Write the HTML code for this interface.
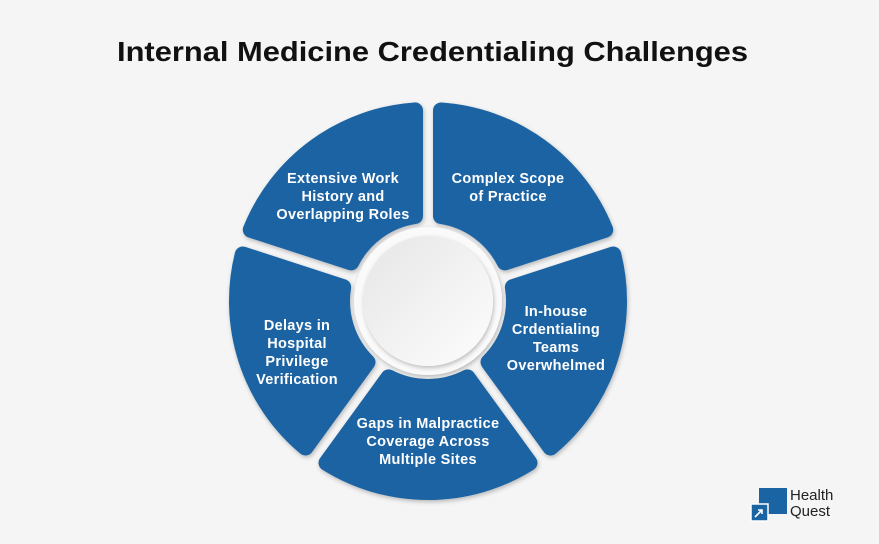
<!DOCTYPE html>
<html><head><meta charset="utf-8"><style>
html,body{margin:0;padding:0;background:#f5f5f5;}
body{width:879px;height:544px;position:relative;overflow:hidden;font-family:"Liberation Sans",sans-serif;}
</style></head><body>
<svg id="s" width="879" height="544" xmlns="http://www.w3.org/2000/svg" style="position:absolute;left:0;top:0">
<defs>
<linearGradient id="g" x1="0" y1="0" x2="1" y2="1"><stop offset="0" stop-color="#e6e6e6"/><stop offset="1" stop-color="#fdfdfd"/></linearGradient>
<filter id="sh" x="-20%" y="-20%" width="140%" height="140%"><feDropShadow dx="1" dy="2" stdDeviation="2" flood-color="#000" flood-opacity="0.25"/></filter>
</defs>
<rect width="879" height="544" fill="#f5f5f5"/>
<text x="117" y="61" textLength="631" lengthAdjust="spacingAndGlyphs" font-size="28" font-weight="bold" fill="#111">Internal Medicine Credentialing Challenges</text>
<g id="segs" filter="url(#sh)"></g>
<circle cx="428" cy="301" r="74" fill="#fafafa" filter="url(#sh)"/>
<circle cx="428" cy="301" r="65" fill="url(#g)" filter="url(#sh)"/>
<g font-size="14.5" font-weight="bold" fill="#fff" text-anchor="middle" letter-spacing="0.3">
<text x="343" y="183">Extensive Work</text><text x="343" y="201">History and</text><text x="343" y="219">Overlapping Roles</text>
<text x="508" y="183">Complex Scope</text><text x="508" y="201">of Practice</text>
<text x="556" y="316">In-house</text><text x="556" y="334">Crdentialing</text><text x="556" y="352">Teams</text><text x="556" y="370">Overwhelmed</text>
<text x="428" y="428">Gaps in Malpractice</text><text x="428" y="446">Coverage Across</text><text x="428" y="464">Multiple Sites</text>
<text x="297" y="330">Delays in</text><text x="297" y="348">Hospital</text><text x="297" y="366">Privilege</text><text x="297" y="384">Verification</text>
</g>
<rect x="759" y="488" width="28" height="26" fill="#1a64a4"/>
<rect x="751" y="504" width="17" height="17" fill="#1a64a4" stroke="#fff" stroke-width="1.5"/>
<path d="M755 517 L762 510 M758 510 L762 510 L762 514" stroke="#fff" stroke-width="1.6" fill="none"/>
<text x="790" y="500" font-size="15" fill="#222">Health</text>
<text x="790" y="516" font-size="15" fill="#222">Quest</text>
</svg>
<script>
(function(){
var cx=428,cy=301,R=191,r=86,d=13,g=document.getElementById('segs');
function P(rad,a){return [(cx+rad*Math.cos(a)).toFixed(2),(cy+rad*Math.sin(a)).toFixed(2)];}
for(var k=0;k<5;k++){
var c=(-54+72*k)*Math.PI/180,t1=c-36*Math.PI/180,t2=c+36*Math.PI/180;
var o1=P(R,t1+Math.asin(d/R)),o2=P(R,t2-Math.asin(d/R)),i2=P(r,t2-Math.asin(d/r)),i1=P(r,t1+Math.asin(d/r));
var p='M'+o1+' A'+R+' '+R+' 0 0 1 '+o2+' L'+i2+' A'+r+' '+r+' 0 0 0 '+i1+' Z';
var e=document.createElementNS('http://www.w3.org/2000/svg','path');
e.setAttribute('d',p);e.setAttribute('fill','#1a64a4');e.setAttribute('stroke','#1a64a4');
e.setAttribute('stroke-width','16');e.setAttribute('stroke-linejoin','round');
g.appendChild(e);}
})();
</script>
</body></html>
